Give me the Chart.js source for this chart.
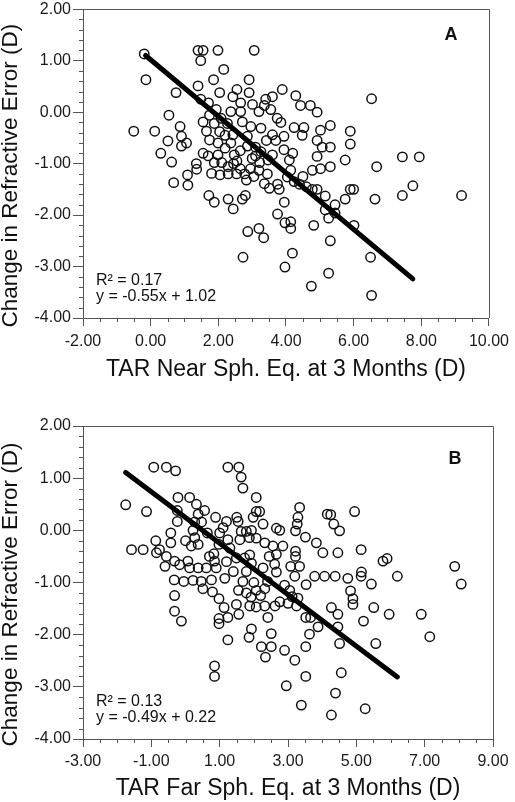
<!DOCTYPE html>
<html><head><meta charset="utf-8">
<script src="https://cdn.jsdelivr.net/npm/chart.js@4.4.0/dist/chart.umd.min.js"></script>
<style>
html,body{margin:0;padding:0;background:#fff;}
body{width:515px;height:802px;position:relative;overflow:hidden;}
.box{position:absolute;left:0;width:515px;}
</style></head><body>
<div class="box" style="top:0;height:400px;"><canvas id="chartA"></canvas></div>
<div class="box" style="top:400px;height:402px;"><canvas id="chartB"></canvas></div>
<script>
// ---- Panel A data: TAR Near vs change in refractive error ----
const nearX = [-0.19,-0.14,-0.50,0.12,0.75,0.54,0.87,0.91,1.06,0.91,
 0.51,0.30,0.62,1.40,1.55,1.48,1.99,3.06,2.16,1.86,
 2.91,1.40,2.04,2.55,2.91,1.48,1.71,1.94,2.43,2.66,
 3.01,3.40,3.60,3.89,3.55,3.74,1.74,2.08,2.37,2.66,
 3.20,1.55,1.88,2.27,2.71,2.96,3.26,1.65,2.04,2.43,
 2.86,3.60,3.94,1.74,1.99,2.37,2.86,3.26,3.60,3.94,
 1.55,1.99,2.47,1.35,1.88,2.10,2.55,0.68,1.10,1.09,
 1.36,1.80,2.29,2.29,2.54,2.78,2.65,2.95,3.20,2.83,
 3.00,3.22,3.47,3.10,3.70,4.20,4.10,4.14,4.04,4.24,
 4.40,4.60,4.78,4.92,4.24,4.53,4.48,4.29,4.43,4.72,
 4.92,4.92,5.02,5.07,5.31,5.31,5.31,5.02,4.78,5.75,
 5.90,5.90,6.53,6.68,7.44,7.94,3.36,1.72,1.88,2.29,
 2.44,2.71,2.80,3.36,3.51,3.75,3.95,3.75,3.97,4.14,
 4.14,2.87,3.20,3.34,2.73,3.97,4.19,4.82,4.75,5.26,
 5.31,5.26,5.16,5.16,5.45,5.45,5.75,5.90,6.00,6.01,
 6.50,6.53,6.63,7.44,7.75,9.19,2.05,3.05,3.45,3.80,
 4.92,4.50,2.20,2.65,3.10,2.45,1.70,3.42,3.85,2.20];
const nearY = [1.13,0.63,-0.37,-0.37,0.38,-0.06,-0.28,-0.47,-0.60,-0.66,
 -0.56,-0.80,-0.97,1.20,1.20,1.00,1.20,1.20,0.83,0.63,
 0.63,0.51,0.38,0.44,0.38,0.25,0.18,0.05,0.30,0.18,
 0.15,0.25,0.30,0.44,0.05,-0.12,-0.06,-0.12,0.01,0.01,
 0.01,-0.19,-0.22,-0.22,-0.19,-0.28,-0.31,-0.37,-0.38,-0.44,
 -0.47,-0.44,-0.47,-0.54,-0.60,-0.60,-0.66,-0.77,-0.83,-0.73,
 -0.80,-0.83,-0.83,-1.00,-0.98,-0.98,-0.95,-1.37,-1.42,-1.22,
 -1.11,-1.19,-1.06,-1.20,-1.20,-1.20,-1.10,-1.10,-1.13,-1.32,
 -0.90,-0.98,-0.93,-0.68,-0.55,-0.80,-0.93,-1.13,-1.26,-1.35,
 -1.40,-1.45,-1.50,-1.50,-0.30,-0.30,-0.45,0.32,0.13,0.13,
 0.00,-0.55,-0.35,-0.68,-0.68,-0.26,-1.06,-1.10,-1.13,-0.93,
 -0.37,-0.62,0.26,-1.06,-0.87,-0.87,0.13,-1.62,-1.75,-1.69,
 -1.88,-1.69,-1.62,-1.39,-1.48,-1.40,-1.75,-1.98,-2.15,-2.13,
 -2.26,-2.32,-2.26,-2.44,-2.82,-3.01,-2.74,-2.20,-3.38,-3.13,
 -2.50,-2.06,-1.63,-1.90,-1.80,-1.96,-1.69,-1.50,-1.50,-2.20,
 -2.82,-3.56,-1.69,-1.62,-1.43,-1.62,-1.22,-1.25,-1.20,-1.50,
 -0.86,-1.25,-0.70,-0.75,-0.85,-1.00,-0.85,-0.55,-0.20,-0.45];
const nearLineX = [-0.15, 7.75];
const nearLineY = [1.10, -3.24];
const nearXTicks = [-2, 0, 2, 4, 6, 8, 10];
const nearStats = ['R\u00B2 = 0.17', 'y = -0.55x + 1.02'];

// ---- Panel B data: TAR Far vs change in refractive error ----
const farX = [-1.75,-1.14,-0.93,-0.56,-0.29,1.24,1.56,1.63,1.68,2.07,
 2.17,2.07,-1.58,-1.24,-0.22,0.12,0.32,0.56,-0.24,-0.24,
 0.37,0.27,0.47,0.88,1.20,1.54,1.50,2.27,1.98,1.78,
 1.63,1.10,1.00,0.64,-0.43,-0.43,0.22,0.27,0.17,-0.87,
 -0.76,-0.85,-0.56,-0.60,-0.32,-0.17,0.07,0.12,0.37,0.61,
 0.85,0.90,0.70,1.24,1.59,1.30,1.49,1.73,1.88,1.93,
 2.32,2.56,2.85,2.66,2.76,2.66,2.61,2.27,1.78,1.20,
 1.40,-0.33,-0.05,0.22,0.46,0.76,1.15,1.68,3.34,3.29,
 3.27,3.22,3.51,3.83,4.02,4.46,4.15,4.25,4.34,4.51,
 4.95,5.14,3.22,3.22,3.08,3.34,3.20,3.78,4.07,4.38,
 4.75,5.14,5.44,5.78,5.90,6.20,7.88,8.07,2.66,1.93,
 1.87,0.98,0.83,0.37,0.00,4.83,4.90,4.90,5.15,
 -0.32,-0.32,-0.12,0.79,0.98,1.13,0.98,0.98,1.24,1.24,
 0.85,0.85,1.49,1.56,1.55,1.78,1.92,2.07,2.20,1.88,
 2.32,2.41,1.93,1.86,2.22,2.51,2.34,2.51,2.62,2.76,
 2.90,3.20,2.95,3.39,3.52,3.52,3.52,3.66,3.63,3.88,
 3.00,3.25,3.05,3.29,4.27,4.46,4.46,4.51,4.56,4.39,
 4.27,5.21,5.26,5.51,5.57,5.96,6.90,7.15,3.53,0.51,
 2.07,2.32,2.07,2.45,2.00,2.40,2.90,3.12];
const farY = [0.49,0.36,1.21,1.21,1.14,1.21,1.21,1.02,0.81,0.63,
 0.36,0.36,-0.37,-0.37,0.63,0.63,0.50,0.38,0.38,0.17,
 0.31,0.16,0.16,0.25,0.17,0.17,0.25,0.12,0.25,-0.02,
 -0.02,0.05,-0.05,-0.05,-0.05,-0.24,0.00,-0.14,-0.30,-0.20,
 -0.37,-0.43,-0.50,-0.69,-0.59,-0.66,-0.59,-0.72,-0.72,-0.72,
 -0.59,-0.72,-0.50,-0.18,-0.18,-0.34,-0.53,-0.53,-0.47,-0.63,
 -0.24,-0.30,-0.30,0.04,0.00,-0.46,-0.65,-0.72,-0.79,-0.60,
 -0.79,-0.95,-0.98,-0.96,-0.98,-0.95,-0.92,-0.98,0.44,0.25,
 0.12,-0.01,-0.13,-0.24,-0.43,-0.43,0.31,0.30,0.12,-0.01,
 0.36,-0.37,-0.40,-0.50,-0.69,-0.69,-0.88,-0.88,-0.88,-0.88,
 -0.92,-0.88,-1.03,-0.59,-0.54,-0.88,-0.69,-1.03,-0.80,0.00,
 -0.14,-0.27,-0.45,-0.27,-0.20,-1.16,-1.31,-1.42,-0.80,
 -1.25,-1.55,-1.74,-1.18,-1.31,-1.48,-1.69,-1.79,-1.67,-2.10,
 -2.60,-2.80,-1.42,-1.61,-1.15,-1.20,-1.28,-1.15,-1.25,-1.45,
 -1.45,-1.67,-1.89,-2.05,-2.23,-2.23,-2.43,-1.98,-1.45,-1.37,
 -2.30,-2.49,-2.98,-3.35,-2.80,-2.23,-1.67,-1.67,-1.99,-1.85,
 -1.40,-1.45,-1.15,-1.30,-1.48,-1.61,-1.85,-2.17,-2.73,-3.12,
 -3.54,-1.74,-3.42,-1.48,-2.17,-1.61,-1.61,-2.04,-1.04,-1.12,
 -1.47,-1.12,-0.15,-0.50,-1.00,-0.98,-1.05,-1.27];
const farLineX = [-1.75, 6.20];
const farLineY = [1.11, -2.81];
const farXTicks = [-3, -1, 1, 3, 5, 7, 9];
const farStats = ['R\u00B2 = 0.13', 'y = -0.49x + 0.22'];

// ---- shared axis ----
const yTicks = [2, 1, 0, -1, -2, -3, -4];
const yTitle = 'Change in Refractive Error (D)';
const nearXTitle = 'TAR Near Sph. Eq. at 3 Months (D)';
const farXTitle = 'TAR Far Sph. Eq. at 3 Months (D)';

const FONT = '"Liberation Sans", Arial, Helvetica, sans-serif';
const AXIS = '#555';

const decor = {
  id: 'decor',
  afterDraw(chart, args, o) {
    const {ctx, chartArea: a, scales: {x, y}} = chart;
    ctx.save();
    ctx.strokeStyle = AXIS; ctx.lineWidth = 1;
    ctx.beginPath();
    const top = Math.round(a.top) + 0.5, right = Math.round(a.right) + 0.5;
    ctx.moveTo(a.left, top); ctx.lineTo(right, top); ctx.lineTo(right, a.bottom);
    // minor ticks
    for (let k = 1; k < 30; k++) {
      if (k % 5 === 0) continue;
      const py = Math.round(y.getPixelForValue(y.min + k * 0.2)) + 0.5;
      ctx.moveTo(a.left - 4, py); ctx.lineTo(a.left, py);
    }
    for (let k = 1; k < 24; k++) {
      if (k % 4 === 0) continue;
      const px = Math.round(x.getPixelForValue(x.min + k * 0.5)) + 0.5;
      ctx.moveTo(px, a.bottom); ctx.lineTo(px, a.bottom + 4);
    }
    ctx.stroke();
    ctx.fillStyle = '#111';
    ctx.textBaseline = 'alphabetic';
    ctx.font = 'bold 18px ' + FONT; ctx.textAlign = 'center';
    ctx.fillText(o.letter, a.right - 38, a.top + o.letterDy);
    ctx.font = '16px ' + FONT; ctx.textAlign = 'left';
    ctx.fillText(o.stats[0], a.left + 13, a.bottom - 33);
    ctx.fillText(o.stats[1], a.left + 13, a.bottom - 17.5);
    ctx.translate(17, (a.top + a.bottom) / 2 + 12);
    ctx.rotate(-Math.PI / 2);
    ctx.font = '22.5px ' + FONT; ctx.textAlign = 'center';
    ctx.fillText(yTitle, 0, 0);
    ctx.restore();
  }
};

function makeChart(id, xs, ys, lx, ly, xTicks, xTitle, stats, letter, cfg) {
  const pts = xs.map((v, i) => ({x: v, y: ys[i]}));
  const line = lx.map((v, i) => ({x: v, y: ly[i]}));
  return new Chart(document.getElementById(id), {
    type: 'scatter',
    data: { datasets: [
      { type: 'line', data: line, showLine: true, borderColor: '#000', borderWidth: 5,
        pointRadius: 0, borderCapStyle: 'round', order: 0 },
      { data: pts, pointRadius: 4.7, pointBorderWidth: 1.5, borderColor: '#111',
        backgroundColor: 'rgba(0,0,0,0)', order: 1 }
    ]},
    options: {
      responsive: true, maintainAspectRatio: false, animation: false, devicePixelRatio: 1,
      layout: { padding: { top: cfg.top, right: 22, left: 0, bottom: 0 } },
      plugins: { legend: {display: false}, tooltip: {enabled: false},
        decor: { letter: letter, letterDy: cfg.letterDy, stats: stats } },
      scales: {
        x: {
          type: 'linear', min: xTicks[0], max: xTicks[xTicks.length - 1],
          afterBuildTicks: s => { s.ticks = xTicks.map(v => ({value: v})); },
          afterFit: s => { s.height = cfg.xh; },
          grid: { display: true, drawOnChartArea: false, drawTicks: true, tickLength: 8, color: AXIS, tickColor: AXIS },
          border: { display: true, color: AXIS, width: 1 },
          ticks: { padding: cfg.xpad, color: '#1a1a1a', autoSkip: false, maxRotation: 0,
            font: {family: FONT, size: 16}, callback: v => Number(v).toFixed(2) },
          title: { display: true, text: xTitle, color: '#111', font: {family: FONT, size: 23},
            padding: {top: 0, bottom: cfg.tpad} }
        },
        y: {
          type: 'linear', min: yTicks[yTicks.length - 1], max: yTicks[0],
          afterBuildTicks: s => { s.ticks = yTicks.slice().reverse().map(v => ({value: v})); },
          afterFit: s => { s.width = 83; },
          grid: { display: true, drawOnChartArea: false, drawTicks: true, tickLength: 10, color: AXIS, tickColor: AXIS },
          border: { display: true, color: AXIS, width: 1 },
          ticks: { padding: 2, color: '#1a1a1a', autoSkip: false,
            font: {family: FONT, size: 16, lineHeight: 0.9}, callback: v => Number(v).toFixed(2) },
          title: { display: false }
        }
      }
    },
    plugins: [decor]
  });
}

makeChart('chartA', nearX, nearY, nearLineX, nearLineY, nearXTicks, nearXTitle, nearStats, 'A',
  { top: 8, xh: 82, xpad: 6, tpad: 17, letterDy: 31 });
makeChart('chartB', farX, farY, farLineX, farLineY, farXTicks, farXTitle, farStats, 'B',
  { top: 26, xh: 63, xpad: 5, tpad: 0, letterDy: 38 });
</script>
</body></html>
